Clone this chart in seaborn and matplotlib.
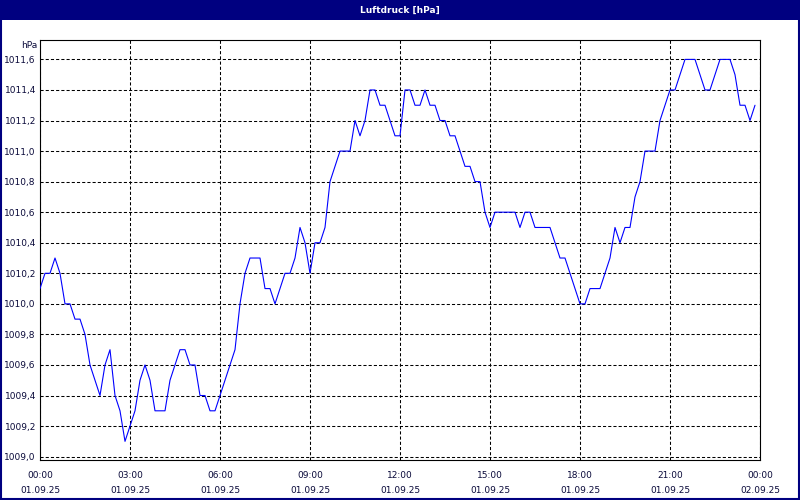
import matplotlib
matplotlib.use("Agg")
import matplotlib.pyplot as plt
import matplotlib.dates as mdates
from matplotlib.ticker import FuncFormatter, FixedLocator
from matplotlib.patches import Rectangle
import seaborn as sns
import pandas as pd
import numpy as np

# ---- data ----
title = "Luftdruck [hPa]"
unit = "hPa"
start = "2025-09-01 00:00"
end = "2025-09-02 00:00"
step = "10min"
pressure = [
    1010.1, 1010.2, 1010.2, 1010.3, 1010.2, 1010.0, 1010.0, 1009.9, 1009.9, 1009.8,
    1009.6, 1009.5, 1009.4, 1009.6, 1009.7, 1009.4, 1009.3, 1009.1, 1009.2, 1009.3,
    1009.5, 1009.6, 1009.5, 1009.3, 1009.3, 1009.3, 1009.5, 1009.6, 1009.7, 1009.7,
    1009.6, 1009.6, 1009.4, 1009.4, 1009.3, 1009.3, 1009.4, 1009.5, 1009.6, 1009.7,
    1010.0, 1010.2, 1010.3, 1010.3, 1010.3, 1010.1, 1010.1, 1010.0, 1010.1, 1010.2,
    1010.2, 1010.3, 1010.5, 1010.4, 1010.2, 1010.4, 1010.4, 1010.5, 1010.8, 1010.9,
    1011.0, 1011.0, 1011.0, 1011.2, 1011.1, 1011.2, 1011.4, 1011.4, 1011.3, 1011.3,
    1011.2, 1011.1, 1011.1, 1011.4, 1011.4, 1011.3, 1011.3, 1011.4, 1011.3, 1011.3,
    1011.2, 1011.2, 1011.1, 1011.1, 1011.0, 1010.9, 1010.9, 1010.8, 1010.8, 1010.6,
    1010.5, 1010.6, 1010.6, 1010.6, 1010.6, 1010.6, 1010.5, 1010.6, 1010.6, 1010.5,
    1010.5, 1010.5, 1010.5, 1010.4, 1010.3, 1010.3, 1010.2, 1010.1, 1010.0, 1010.0,
    1010.1, 1010.1, 1010.1, 1010.2, 1010.3, 1010.5, 1010.4, 1010.5, 1010.5, 1010.7,
    1010.8, 1011.0, 1011.0, 1011.0, 1011.2, 1011.3, 1011.4, 1011.4, 1011.5, 1011.6,
    1011.6, 1011.6, 1011.5, 1011.4, 1011.4, 1011.5, 1011.6, 1011.6, 1011.6, 1011.5,
    1011.3, 1011.3, 1011.2, 1011.3,
]
y_ticks = [1009.0, 1009.2, 1009.4, 1009.6, 1009.8, 1010.0, 1010.2, 1010.4,
           1010.6, 1010.8, 1011.0, 1011.2, 1011.4, 1011.6]
y_limits = (1008.978, 1011.727)

times = pd.date_range(start=start, periods=len(pressure), freq=step)
df = pd.DataFrame({"time": times, "pressure": pressure})

# ---- style ----
sns.set_style("white")
plt.rcParams["font.family"] = ["DejaVu Sans"]
navy = "#000080"
text_col = "#0a0a3a"

fig = plt.figure(figsize=(8, 5), dpi=100)
fig.patch.set_facecolor("white")
ax = fig.add_axes([40 / 800, 40 / 500, 720 / 800, 420 / 500])

sns.lineplot(data=df, x="time", y="pressure", ax=ax, color="#0000ff",
             linewidth=0.8, zorder=3)

ax.set_xlim(pd.Timestamp(start), pd.Timestamp(end))
ax.set_ylim(*y_limits)
ax.set_xlabel("")
ax.set_ylabel("")

ax.xaxis.set_major_locator(mdates.HourLocator(interval=3))
ax.xaxis.set_minor_locator(mdates.HourLocator(interval=1))
ax.xaxis.set_major_formatter(mdates.DateFormatter("%H:%M\n%d.%m.%y"))
ax.yaxis.set_major_locator(FixedLocator(y_ticks))
ax.yaxis.set_major_formatter(FuncFormatter(lambda v, p: f"{v:.1f}".replace(".", ",")))

ax.tick_params(axis="x", which="both", direction="out", length=3, width=0.8,
               color="black", labelsize=6.5, labelcolor=text_col, pad=5)
ax.tick_params(axis="y", which="both", length=0, labelsize=6.5,
               labelcolor=text_col, pad=3)
for lbl in ax.get_xticklabels():
    lbl.set_linespacing(1.85)

ax.grid(True, which="major", axis="both", color="black", linewidth=0.75,
        linestyle=(0, (3, 2)), zorder=1)
for s in ax.spines.values():
    s.set_visible(True)
    s.set_color("black")
    s.set_linewidth(0.8)

# unit label
fig.text(37 / 800, 1 - 45 / 500, unit, ha="right", va="center",
         fontsize=6.5, color=text_col)

# title bar
fig.patches.append(Rectangle((0, 1 - 20 / 500), 1, 20 / 500, transform=fig.transFigure,
                             facecolor=navy, edgecolor="none", zorder=0))
fig.text(0.5, 1 - 10 / 500, title, ha="center", va="center", fontsize=6.5,
         fontweight="bold", color="white")
# window border
fig.patches.append(Rectangle((0.001, 0.002), 0.998, 0.996, transform=fig.transFigure,
                             facecolor="none", edgecolor=navy, linewidth=1.5, zorder=5))

fig.savefig("out.png", dpi=100)
